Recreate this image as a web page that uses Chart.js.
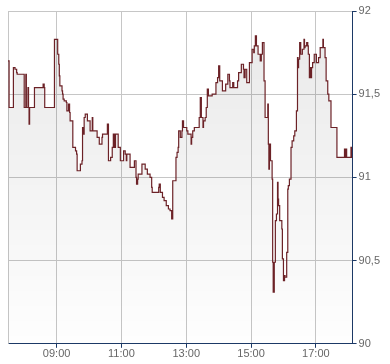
<!DOCTYPE html>
<html>
<head>
<meta charset="utf-8">
<script src="https://cdn.jsdelivr.net/npm/chart.js@4/dist/chart.umd.min.js"></script>
<style>
  html, body { margin: 0; padding: 0; background: #fff; }
  #wrap { width: 390px; height: 364px; }
</style>
</head>
<body>
<div id="wrap"><canvas id="priceChart"></canvas></div>
<script>
// intraday price (time of change -> new price)
const times = [
  "07:30","07:32","07:40","07:43","07:46","07:47","08:00","08:03","08:04","08:07",
  "08:08","08:09","08:10","08:19","08:35","08:37","08:38","08:56","09:02","09:04",
  "09:05","09:06","09:10","09:11","09:12","09:14","09:18","09:19","09:22","09:24",
  "09:25","09:30","09:35","09:37","09:38","09:44","09:47","09:48","09:49","09:51",
  "09:53","09:57","10:02","10:06","10:07","10:15","10:19","10:24","10:25","10:34",
  "10:36","10:40","10:43","10:45","10:47","10:49","10:54","10:58","11:04","11:07",
  "11:09","11:10","11:16","11:24","11:27","11:28","11:30","11:31","11:38","11:44",
  "11:48","11:53","11:56","11:57","12:09","12:10","12:12","12:16","12:19","12:23",
  "12:27","12:30","12:33","12:35","12:41","12:43","12:45","12:46","12:49","12:52",
  "12:53","12:55","13:01","13:03","13:09","13:10","13:12","13:15","13:24","13:26",
  "13:28","13:31","13:32","13:35","13:37","13:39","13:41","13:48","13:55","13:58",
  "14:00","14:02","14:07","14:13","14:17","14:20","14:21","14:26","14:28","14:35",
  "14:37","14:42","14:46","14:47","14:49","14:52","14:57","15:02","15:05","15:06",
  "15:08","15:10","15:13","15:17","15:19","15:21","15:24","15:26","15:31","15:32",
  "15:33","15:34","15:36","15:39","15:40","15:41","15:43","15:45","15:47","15:49",
  "15:50","15:51","15:53","15:57","15:58","16:00","16:02","16:03","16:06","16:08",
  "16:09","16:11","16:14","16:16","16:19","16:21","16:24","16:26","16:27","16:28",
  "16:30","16:32","16:35","16:38","16:39","16:40","16:43","16:45","16:46","16:48",
  "16:50","16:51","16:52","16:54","16:57","17:01","17:05","17:08","17:13","17:14",
  "17:17","17:19","17:22","17:24","17:28","17:39","17:53","17:54","17:56","17:57",
  "18:05","18:06","18:08"
];
const prices = [
  91.70, 91.42, 91.66, 91.65, 91.63, 91.62, 91.42, 91.62, 91.42, 91.54,
  91.42, 91.32, 91.42, 91.54, 91.56, 91.54, 91.42, 91.83, 91.74, 91.68,
  91.61, 91.55, 91.52, 91.50, 91.47, 91.46, 91.45, 91.40, 91.44, 91.39,
  91.34, 91.18, 91.16, 91.14, 91.04, 91.08, 91.10, 91.30, 91.26, 91.36,
  91.38, 91.34, 91.28, 91.36, 91.28, 91.24, 91.20, 91.24, 91.26, 91.32,
  91.10, 91.12, 91.18, 91.26, 91.18, 91.26, 91.18, 91.10, 91.16, 91.14,
  91.10, 91.14, 91.06, 91.10, 91.00, 90.96, 90.99, 91.02, 91.08, 91.05,
  91.02, 91.00, 90.94, 90.91, 90.94, 90.96, 90.91, 90.88, 90.86, 90.83,
  90.81, 90.80, 90.75, 90.98, 91.12, 91.15, 91.18, 91.28, 91.24, 91.28,
  91.34, 91.30, 91.28, 91.26, 91.20, 91.24, 91.28, 91.30, 91.36, 91.48,
  91.36, 91.30, 91.34, 91.36, 91.42, 91.53, 91.49, 91.50, 91.57, 91.60,
  91.67, 91.58, 91.52, 91.56, 91.62, 91.58, 91.54, 91.57, 91.54, 91.58,
  91.63, 91.68, 91.65, 91.60, 91.65, 91.57, 91.69, 91.77, 91.75, 91.79,
  91.85, 91.79, 91.74, 91.70, 91.74, 91.81, 91.58, 91.36, 91.44, 91.20,
  91.05, 91.20, 91.10, 90.99, 90.49, 90.31, 90.49, 90.74, 90.78, 90.97,
  90.87, 90.83, 90.74, 90.69, 90.51, 90.38, 90.41, 90.40, 90.55, 90.93,
  90.95, 90.99, 91.18, 91.22, 91.25, 91.28, 91.40, 91.72, 91.66, 91.71,
  91.81, 91.74, 91.77, 91.83, 91.78, 91.79, 91.81, 91.79, 91.74, 91.60,
  91.66, 91.60, 91.66, 91.69, 91.74, 91.69, 91.72, 91.78, 91.83, 91.78,
  91.72, 91.58, 91.50, 91.46, 91.30, 91.12, 91.17, 91.12, 91.17, 91.12,
  91.18, 91.12, 91.12
];
const xTickLabels = ["09:00", "11:00", "13:00", "15:00", "17:00"];
const yTicks = [90, 90.5, 91, 91.5, 92];
const xStart = "07:30";
const xEnd = "18:08";

function toMin(t) {
  const p = t.split(":");
  return parseInt(p[0], 10) * 60 + parseInt(p[1], 10);
}

const points = times.map((t, i) => ({ x: toMin(t), y: prices[i] }));
const tickNames = {};
xTickLabels.forEach((t) => { tickNames[toMin(t)] = t; });

const gridGray = "#c6c6c6";
const axisBlue = "#1c3966";

// left edge of the plot is grey like the grid
const framePlugin = {
  id: "frame",
  beforeDatasetsDraw(chart) {
    const a = chart.chartArea;
    const c = chart.ctx;
    c.save();
    c.strokeStyle = gridGray;
    c.lineWidth = 1;
    c.beginPath();
    c.moveTo(Math.round(a.left) + 0.5, a.top);
    c.lineTo(Math.round(a.left) + 0.5, a.bottom);
    c.stroke();
    c.restore();
  },
};

Chart.defaults.font.family = "'Liberation Sans', Arial, sans-serif";
Chart.defaults.font.size = 11;
Chart.defaults.color = "#666";

let ctx = document.getElementById("priceChart").getContext("2d");
new Chart(ctx, {
  type: "line",
  data: {
    datasets: [
      {
        data: points,
        stepped: true,
        borderColor: "#6c2227",
        borderWidth: 1.2,
        pointRadius: 0,
        fill: "start",
        backgroundColor: (c) => {
          const area = c.chart.chartArea;
          if (!area) return "rgba(0,0,0,0.05)";
          const g = c.chart.ctx.createLinearGradient(0, area.top, 0, area.bottom);
          g.addColorStop(0, "rgba(0,0,0,0.09)");
          g.addColorStop(1, "rgba(0,0,0,0.005)");
          return g;
        },
      },
    ],
  },
  options: {
    responsive: true,
    maintainAspectRatio: false,
    animation: false,
    layout: { padding: { left: 8, top: 11, right: 8, bottom: 3 } },
    plugins: { legend: { display: false }, tooltip: { enabled: false } },
    scales: {
      x: {
        type: "linear",
        min: toMin(xStart),
        max: toMin(xEnd),
        afterBuildTicks: (axis) => {
          axis.ticks = xTickLabels.map((t) => ({ value: toMin(t) }));
        },
        ticks: {
          padding: 0,
          maxRotation: 0,
          callback: (v) => tickNames[v],
        },
        grid: { color: gridGray, tickColor: axisBlue, tickLength: 4 },
        border: { color: axisBlue, width: 1 },
      },
      y: {
        position: "right",
        min: yTicks[0],
        max: yTicks[yTicks.length - 1],
        afterBuildTicks: (axis) => {
          axis.ticks = yTicks.map((v) => ({ value: v }));
        },
        ticks: {
          padding: 2,
          callback: (v) => String(v).replace(".", ","),
        },
        grid: { color: gridGray, tickColor: axisBlue, tickLength: 4 },
        border: { color: axisBlue, width: 1 },
      },
    },
  },
  plugins: [framePlugin],
});
</script>
</body>
</html>
